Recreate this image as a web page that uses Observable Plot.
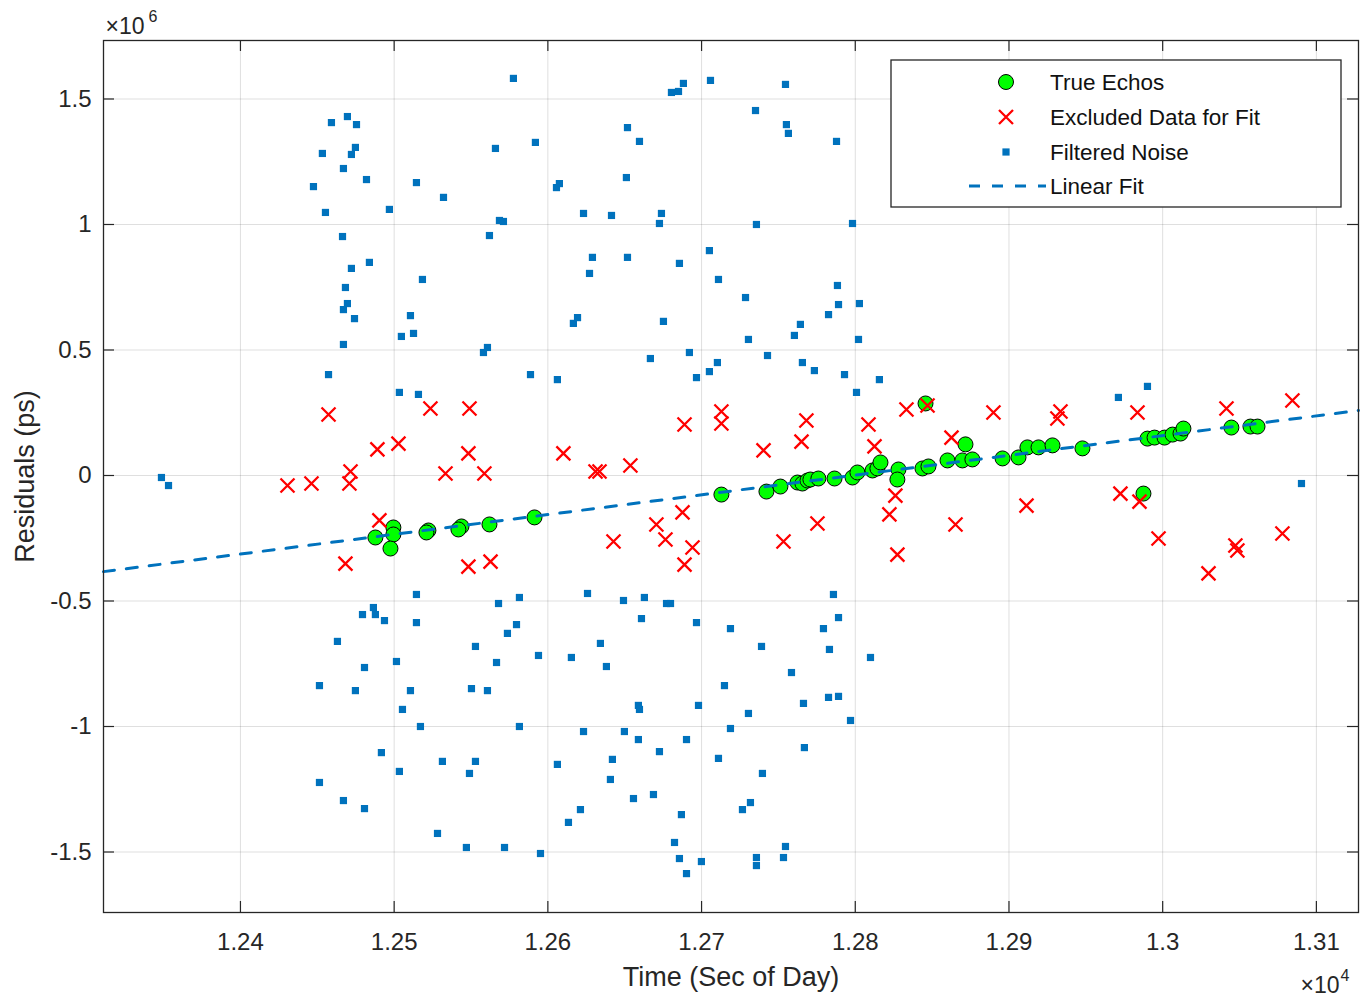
<!DOCTYPE html>
<html><head><meta charset="utf-8">
<script src="https://cdn.jsdelivr.net/npm/d3@7"></script>
<script src="https://cdn.jsdelivr.net/npm/@observablehq/plot@0.6"></script>
<style>
html,body{margin:0;padding:0;background:#fff;}
#chart{position:relative;width:1361px;height:996px;}
</style></head><body><div id="chart"></div>
<script>
// Time in seconds of day; residuals in units of 10^6 ps (axis multiplier ×10^6)
const echoTime = [12487.8,12499.5,12499.5,12497.6,12522.3,12521.0,12543.8,12541.8,12562.0,12591.3,
12712.9,12742.2,12751.3,12762.4,12765.6,12768.9,12770.8,12776.0,12786.5,12798.2,
12801.4,12811.2,12814.4,12816.4,12828.1,12827.4,12843.7,12847.6,12845.7,12860.0,
12869.7,12871.7,12876.2,12895.8,12906.2,12912.0,12919.2,12928.3,12947.8,12987.5,
12990.1,12994.7,13001.2,13006.4,13011.6,13013.5,13044.7,13057.1,13061.7];
const echoResidual = [-0.247,-0.207,-0.235,-0.291,-0.219,-0.227,-0.203,-0.215,-0.195,-0.167,
-0.076,-0.064,-0.044,-0.028,-0.032,-0.020,-0.016,-0.012,-0.012,-0.008,
0.012,0.020,0.028,0.052,0.024,-0.016,0.028,0.036,0.287,0.060,
0.060,0.124,0.064,0.068,0.072,0.112,0.112,0.120,0.108,-0.072,
0.147,0.151,0.151,0.163,0.167,0.187,0.191,0.195,0.195];

const excludedTime = [12430.6,12446.2,12457.3,12470.9,12471.6,12489.1,12490.4,12468.3,12502.8,12523.6,
12533.4,12549.0,12548.3,12558.7,12548.3,12562.7,12610.1,12631.0,12633.6,12653.7,
12642.7,12670.6,12676.5,12687.6,12694.1,12688.9,12688.9,12712.9,12712.9,12740.3,
12753.3,12768.2,12765.0,12775.4,12808.6,12812.5,12822.2,12826.1,12827.4,12833.3,
12847.0,12862.6,12865.2,12889.9,12911.4,12933.5,12931.5,12972.5,12984.9,12983.6,
12997.3,13029.8,13041.5,13047.3,13048.6,13077.9,13084.4];
const excludedResidual = [-0.040,-0.032,0.243,-0.032,0.016,0.104,-0.179,-0.351,0.127,0.267,
0.008,0.267,0.088,0.008,-0.363,-0.343,0.088,0.016,0.016,0.040,
-0.263,-0.195,-0.255,-0.147,-0.287,-0.355,0.203,0.255,0.207,0.100,
-0.263,0.219,0.135,-0.191,0.203,0.116,-0.155,-0.080,-0.315,0.263,
0.279,0.151,-0.195,0.251,-0.120,0.255,0.227,-0.072,-0.104,0.251,
-0.251,-0.390,0.267,-0.279,-0.299,-0.231,0.299];

const noiseTime = [12348.6,12353.2,12577.6,12459.2,12469.6,12475.5,12453.3,12474.8,12472.2,12565.9,
12467.0,12447.5,12482.0,12514.5,12532.1,12455.3,12496.9,12568.5,12571.1,12466.4,
12562.0,12483.9,12472.2,12518.4,12468.3,12469.6,12467.0,12474.2,12510.6,12504.7,
12512.6,12467.0,12558.1,12560.7,12457.3,12503.4,12515.8,12514.5,12486.5,12479.4,
12487.8,12493.7,12514.5,12567.9,12581.5,12579.6,12573.7,12463.1,12552.9,12480.7,
12501.5,12566.6,12451.4,12474.8,12510.6,12550.3,12560.7,12505.4,12517.1,12581.5,
12491.7,12531.4,12552.9,12549.0,12503.4,12451.4,12467.0,12480.7,12528.2,12547.0,
12571.8,12625.8,12649.2,12662.8,12677.2,12679.8,12660.9,12696.7,12718.8,12739.0,
12785.8,12789.1,12779.3,12783.2,12809.9,12758.5,12593.9,12615.3,12634.2,12638.1,
12714.9,12658.9,12659.6,12698.0,12730.5,12766.3,12782.6,12789.1,12796.9,12623.2,
12649.8,12658.9,12672.6,12690.2,12718.8,12711.0,12766.9,12606.2,12642.0,12640.7,
12739.6,12655.7,12668.7,12621.2,12613.4,12686.9,12726.6,12731.8,12595.2,12682.4,
12685.6,12690.2,12699.9,12735.7,12735.7,12754.6,12753.3,12591.9,12605.6,12607.5,
12623.2,12641.4,12651.8,12659.6,12651.1,12673.9,12672.6,12680.4,12685.0,12688.2,
12705.8,12735.1,12754.6,12755.2,12756.5,12787.8,12735.7,12798.2,12629.0,12627.1,
12651.8,12685.6,12705.1,12711.0,12728.6,12616.6,12619.3,12675.2,12788.4,12789.1,
12802.7,12782.6,12764.3,12760.4,12802.1,12730.5,12666.7,12692.1,12710.3,12705.1,
12742.9,12588.7,12606.2,12696.7,12765.6,12773.4,12793.0,12815.7,12800.8,12971.2,
12990.1,13090.3];
const noiseResidual = [-0.008,-0.040,1.582,1.406,1.430,1.398,1.283,1.307,1.279,1.303,
1.223,1.151,1.179,1.167,1.108,1.048,1.060,1.016,1.012,0.952,
0.956,0.849,0.825,0.781,0.749,0.685,0.661,0.625,0.637,0.554,
0.566,0.522,0.490,0.510,0.402,0.331,0.323,-0.474,-0.526,-0.554,
-0.554,-0.578,-0.586,-0.510,-0.486,-0.594,-0.629,-0.661,-0.681,-0.765,
-0.741,-0.745,-0.837,-0.857,-0.857,-0.849,-0.857,-0.932,-1.000,-1.000,
-1.104,-1.139,-1.139,-1.187,-1.179,-1.223,-1.295,-1.327,-1.426,-1.482,
-1.482,-0.470,-0.498,-0.486,-0.510,-0.510,-0.570,-0.586,-0.610,-0.681,
-0.474,-0.566,-0.610,-0.693,-0.725,-0.785,-0.717,-0.725,-0.669,-0.761,
-0.837,-0.916,-0.932,-0.916,-0.948,-0.908,-0.884,-0.880,-0.976,-1.020,
-1.020,-1.052,-1.100,-1.052,-1.008,-1.127,-1.084,-1.151,-1.131,-1.211,
-1.187,-1.287,-1.271,-1.331,-1.382,-1.351,-1.331,-1.303,-1.506,-1.462,
-1.526,-1.586,-1.538,-1.522,-1.554,-1.478,-1.522,1.327,1.147,1.163,
1.044,1.036,1.386,1.331,1.187,1.044,1.004,1.526,1.530,1.562,
1.574,1.454,1.558,1.398,1.363,1.331,1.000,1.004,0.869,0.805,
0.869,0.845,0.896,0.781,0.709,0.606,0.629,0.614,0.757,0.681,
0.685,0.641,0.602,0.558,0.542,0.542,0.466,0.490,0.450,0.414,
0.478,0.402,0.382,0.390,0.450,0.418,0.402,0.382,0.331,0.311,
0.355,-0.032];

const fitTime = [12310.9, 13127.4];
const fitResidual = [-0.383, 0.259];

const xTicks = [12400,12500,12600,12700,12800,12900,13000,13100];
const yTicks = [-1.5,-1,-0.5,0,0.5,1,1.5];
const xDomain = [12310.9, 13127.4];
const yDomain = [-1.741, 1.733];

const legendLabels = ["True Echos","Excluded Data for Fit","Filtered Noise","Linear Fit"];

const rows = (t, r) => t.map((v, i) => ({t: v, r: r[i]}));
const echoes = rows(echoTime, echoResidual);
const excluded = rows(excludedTime, excludedResidual);
const noise = rows(noiseTime, noiseResidual);
const fit = rows(fitTime, fitResidual);

const W = 1361, H = 996, mL = 103, mR = 3, mT = 40, mB = 84;
const fw = W - mL - mR, fh = H - mT - mB;
const ink = "#262626";
const font = "'Liberation Sans', Arial, Helvetica, sans-serif";
const green = "#00ff00", red = "#ff0000", blue = "#0072BD";

const xSym = {draw(ctx, size){const r = Math.sqrt(size/Math.PI); ctx.moveTo(-r,-r); ctx.lineTo(r,r); ctx.moveTo(r,-r); ctx.lineTo(-r,r);}};
const sqSym = {draw(ctx, size){const r = Math.sqrt(size/Math.PI); ctx.rect(-r,-r,2*r,2*r);}};

const chart = Plot.plot({
  width: W, height: H, marginLeft: mL, marginRight: mR, marginTop: mT, marginBottom: mB,
  style: {fontFamily: font, fontSize: "24px", color: ink, background: "#fff", overflow: "visible"},
  x: {domain: xDomain, axis: null},
  y: {domain: yDomain, axis: null},
  marks: [
    Plot.gridX(xTicks, {stroke: ink, strokeOpacity: 0.15, strokeWidth: 1}),
    Plot.gridY(yTicks, {stroke: ink, strokeOpacity: 0.15, strokeWidth: 1}),
    Plot.ruleX(xTicks, {x: d => d, insetTop: fh - 11, stroke: ink, strokeWidth: 1.2}),
    Plot.ruleX(xTicks, {x: d => d, insetBottom: fh - 11, stroke: ink, strokeWidth: 1.2}),
    Plot.ruleY(yTicks, {y: d => d, insetRight: fw - 11, stroke: ink, strokeWidth: 1.2}),
    Plot.ruleY(yTicks, {y: d => d, insetLeft: fw - 11, stroke: ink, strokeWidth: 1.2}),
    Plot.axisX(xTicks, {tickSize: 0, tickPadding: 20, fontSize: 24, fill: ink,
      tickFormat: d => String(+(d / 1e4).toFixed(2)), label: null}),
    Plot.axisY(yTicks, {tickSize: 0, tickPadding: 12, fontSize: 24, fill: ink,
      tickFormat: d => String(d), label: null}),
    Plot.text(["Time (Sec of Day)"], {frameAnchor: "bottom", dy: 65, lineAnchor: "middle", textAnchor: "middle", fontSize: 27, fill: ink}),
    Plot.text(["Residuals (ps)"], {frameAnchor: "left", dx: -78, rotate: -90, lineAnchor: "middle", textAnchor: "middle", fontSize: 27, fill: ink}),
    Plot.text(["×10"], {frameAnchor: "top-left", dx: 2, dy: -7, lineAnchor: "bottom", textAnchor: "start", fontSize: 23, fill: ink}),
    Plot.text(["6"], {frameAnchor: "top-left", dx: 45, dy: -19, lineAnchor: "bottom", textAnchor: "start", fontSize: 16, fill: ink}),
    Plot.text(["×10"], {frameAnchor: "bottom-right", dx: -19, dy: 80, lineAnchor: "bottom", textAnchor: "end", fontSize: 23, fill: ink}),
    Plot.text(["4"], {frameAnchor: "bottom-right", dx: -18, dy: 68, lineAnchor: "bottom", textAnchor: "start", fontSize: 16, fill: ink}),
    Plot.dot(echoes, {x: "t", y: "r", r: 7.5, fill: green, stroke: "#000", strokeWidth: 1}),
    Plot.dot(excluded, {x: "t", y: "r", symbol: xSym, r: 7, fill: "none", stroke: red, strokeWidth: 2.3}),
    Plot.dot(noise, {x: "t", y: "r", symbol: sqSym, r: 3.6, fill: blue, stroke: "none"}),
    Plot.line(fit, {x: "t", y: "r", stroke: blue, strokeWidth: 3, strokeDasharray: "11,12"}),
    Plot.frame({stroke: ink, strokeWidth: 1.3})
  ]
});

// Legend box (top-right, inside the axes)
const svg = d3.select(chart);
const lg = svg.append("g").attr("font-family", font).attr("font-size", 22.5)
  .attr("fill", "#111").attr("text-anchor", "start");
lg.append("rect").attr("x", 891).attr("y", 60).attr("width", 450).attr("height", 147)
  .attr("fill", "#fff").attr("stroke", ink).attr("stroke-width", 1.3);
const rowsY = [82, 117, 152, 186];
lg.append("circle").attr("cx", 1006).attr("cy", rowsY[0]).attr("r", 7.5).attr("fill", green).attr("stroke", "#000");
lg.append("path").attr("d", `M999,${rowsY[1]-7}L1013,${rowsY[1]+7}M1013,${rowsY[1]-7}L999,${rowsY[1]+7}`)
  .attr("stroke", red).attr("stroke-width", 2.3).attr("fill", "none");
lg.append("rect").attr("x", 1002.4).attr("y", rowsY[2]-3.6).attr("width", 7.2).attr("height", 7.2).attr("fill", blue);
lg.append("line").attr("x1", 969).attr("x2", 1046).attr("y1", rowsY[3]).attr("y2", rowsY[3])
  .attr("stroke", blue).attr("stroke-width", 3).attr("stroke-dasharray", "11,12");
legendLabels.forEach((t, i) => {
  lg.append("text").attr("x", 1050).attr("y", rowsY[i]).attr("dy", "0.35em")
    .attr("text-anchor", "start").text(t);
});

document.getElementById("chart").appendChild(chart);
</script>
</body></html>
